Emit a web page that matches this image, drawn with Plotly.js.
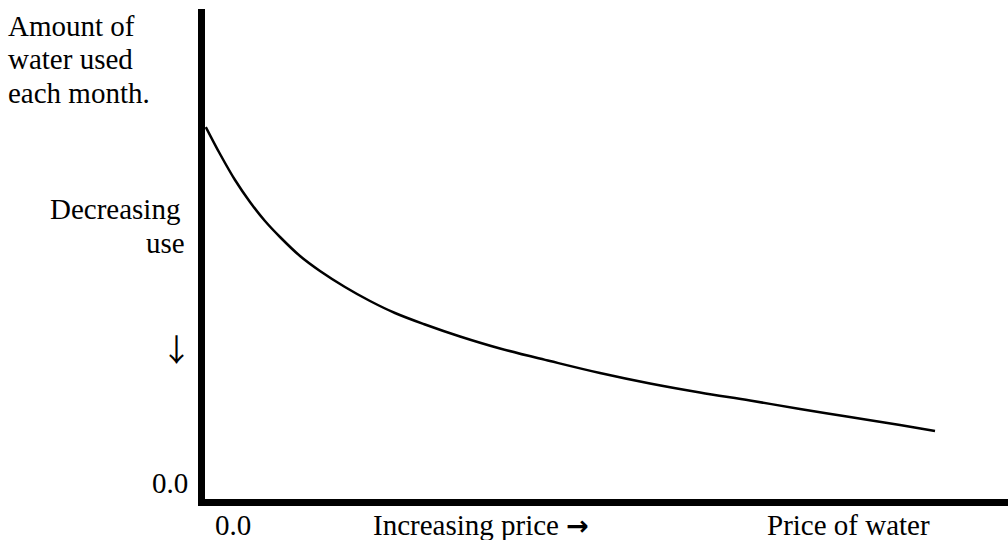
<!DOCTYPE html>
<html>
<head>
<meta charset="utf-8">
<script src="https://cdn.plot.ly/plotly-3.0.1.min.js"></script>
<style>html,body{margin:0;padding:0;background:#fff;}#chart{width:1008px;height:540px;}</style>
</head>
<body>
<div id="chart"></div>
<script>
// Price of water (arbitrary units, 0 = origin)
const price = [0.1, 1.87, 3.74, 5.60, 7.47, 9.34, 11.83, 14.32, 17.43, 20.55, 23.66, 27.40, 31.76, 36.74, 42.96, 49.19, 55.42, 61.64, 67.87, 74.10, 80.32, 86.55, 90.91];
// Amount of water used each month (arbitrary units)
const waterUse = [75.92, 70.41, 65.10, 60.61, 56.73, 53.47, 49.59, 46.53, 43.27, 40.41, 37.96, 35.61, 33.16, 30.71, 28.16, 25.71, 23.57, 21.73, 20.10, 18.37, 16.73, 15.10, 13.88];

const yTitleLines = ["Amount of", "water used", "each month."];
const yDirLines = ["Decreasing", "use"];
const yArrow = "↓";
const yZero = "0.0";
const xZero = "0.0";
const xDir = "Increasing price →";
const xTitle = "Price of water";

const W = 1008, H = 540;
const M = {l: 205, r: 0, t: 9, b: 41};
const pw = W - M.l - M.r, ph = H - M.t - M.b;
const px = x => (x - M.l) / pw;
const py = y => (H - M.b - y) / ph;

const FS = 29;
const serif = "Liberation Serif, Times New Roman, serif";
const font = {family: serif, size: FS, color: "#000"};

// place a single line of text by its baseline (pixels)
function ann(text, x, baseline, xanchor, f) {
  const ff = f || font;
  return {text: text, xref: "paper", yref: "paper", x: px(x), y: py(baseline - 0.32 * ff.size),
          xanchor: xanchor, yanchor: "middle", align: "center",
          showarrow: false, font: ff};
}

const styledArrow = s => s.replace("→", '<span style="font-family:DejaVu Sans;font-weight:bold;font-size:27px">→</span>');

const annotations = [
  ann(yTitleLines[0], 6, 35, "left"),
  ann(yTitleLines[1], 6, 68, "left"),
  ann(yTitleLines[2], 6, 102, "left"),
  ann(yDirLines[0], 182, 218, "right"),
  ann(yDirLines[1], 187, 252, "right"),
  ann(yArrow, 176, 357, "center", {family: "Noto Sans CJK JP", size: 31, color: "#000"}),
  ann(yZero, 169.5, 492, "center"),
  ann(xZero, 233, 534, "center"),
  ann(styledArrow(xDir), 481, 534, "center"),
  ann(xTitle, 848.5, 534, "center")
];

const trace = {
  x: price, y: waterUse, type: "scatter", mode: "lines",
  line: {color: "#000", width: 2.5, shape: "spline", smoothing: 1},
  hoverinfo: "skip"
};

const axisCommon = {showline: true, linewidth: 7, linecolor: "#000", showgrid: false,
  zeroline: false, showticklabels: false, ticks: "", fixedrange: true};

const layout = {
  width: W, height: H, margin: M,
  paper_bgcolor: "#fff", plot_bgcolor: "#fff",
  showlegend: false, font: font,
  xaxis: Object.assign({range: [0, 100]}, axisCommon),
  yaxis: Object.assign({range: [0, 100]}, axisCommon),
  annotations: annotations
};

Plotly.newPlot("chart", [trace], layout, {staticPlot: true, displayModeBar: false});
</script>
</body>
</html>
